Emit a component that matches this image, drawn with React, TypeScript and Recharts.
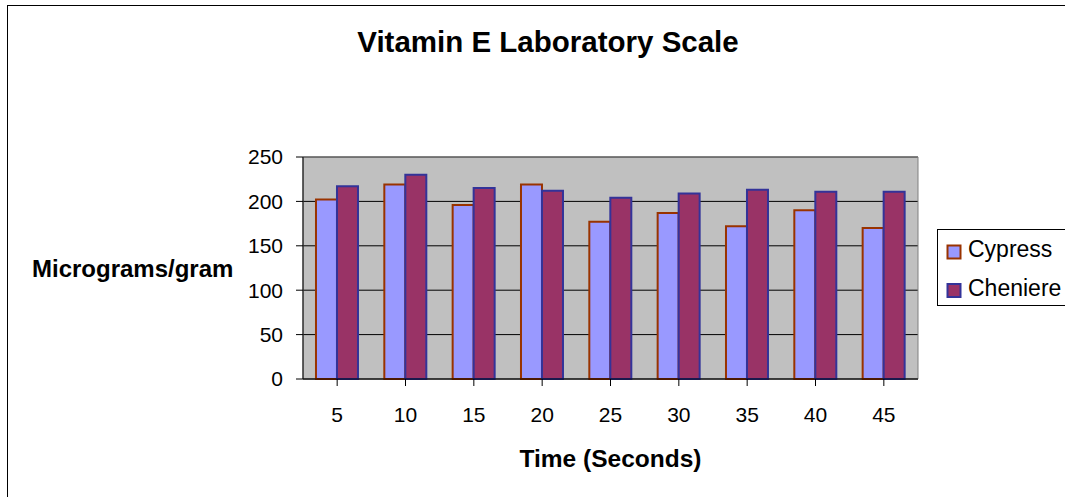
import React from 'react';
import { BarChart, Bar, XAxis, YAxis, CartesianGrid, Legend, Label, ReferenceArea } from 'recharts';

const categories = ['5', '10', '15', '20', '25', '30', '35', '40', '45'];
const cypress = [202, 219, 196, 219, 177, 187, 172, 190, 170];
const cheniere = [217, 230, 215, 212, 204, 209, 213, 211, 211];
const yTicks = [0, 50, 100, 150, 200, 250];

const seriesInfo = [
  { key: 'cypress', name: 'Cypress', fill: '#9999FF', stroke: '#993300' },
  { key: 'cheniere', name: 'Cheniere', fill: '#993366', stroke: '#333399' },
];

const data = categories.map((t, i) => ({ time: t, cypress: cypress[i], cheniere: cheniere[i] }));

const FONT = '"Liberation Sans", Arial, sans-serif';

// Excel-style boxed legend
const LegendBox = () => (
  <svg width={140} height={77} style={{ display: 'block' }}>
    {seriesInfo.map((s, i) => (
      <g key={s.key}>
        <rect x={9.5} y={15.5 + i * 38.5} width={13} height={13} fill={s.fill} stroke={s.stroke} strokeWidth={2} />
        <text x={30} y={27 + i * 39} fontSize={23} fill="#000" fontFamily={FONT}>
          {s.name}
        </text>
      </g>
    ))}
  </svg>
);

export default function App() {
  return (
    <div style={{ position: 'relative', width: 1065, height: 497, overflow: 'hidden', background: '#fff', fontFamily: FONT }}>
      <style>{'body{margin:0}'}</style>
      <BarChart
        width={1065}
        height={497}
        data={data}
        margin={{ top: 157, right: 147, left: 0, bottom: 18 }}
        barCategoryGap="19%"
        barGap={0}
      >
        <CartesianGrid vertical={false} stroke="#000" fill="#C0C0C0" fillOpacity={1} />
        <ReferenceArea y1={0} y2={250} fill="none" stroke="#808080" strokeWidth={1} />
        <XAxis
          dataKey="time"
          height={100}
          tickSize={7}
          tickMargin={21}
          tick={{ fill: '#000', fontSize: 21 }}
          axisLine={{ stroke: '#000' }}
          tickLine={{ stroke: '#000' }}
        >
          <Label value="Time (Seconds)" position="insideBottom" offset={12} fill="#000" fontSize={24.5} fontWeight="bold" />
        </XAxis>
        <YAxis
          width={303}
          domain={[0, 250]}
          ticks={yTicks}
          tickSize={7}
          tickMargin={13}
          tick={{ fill: '#000', fontSize: 21 }}
          axisLine={{ stroke: '#000' }}
          tickLine={{ stroke: '#000' }}
        >
          <Label value="Micrograms/gram" position="insideLeft" offset={32} fill="#000" fontSize={24} fontWeight="bold" />
        </YAxis>
        <Legend
          layout="vertical"
          align="center"
          verticalAlign="middle"
          content={() => <LegendBox />}
          wrapperStyle={{ position: 'absolute', left: 937, top: 229, width: 140, height: 77, border: '1px solid #000', boxSizing: 'border-box', background: '#fff' }}
        />
        {seriesInfo.map((s) => (
          <Bar key={s.key} dataKey={s.key} name={s.name} fill={s.fill} stroke={s.stroke} strokeWidth={2} isAnimationActive={false} />
        ))}
      </BarChart>
      <svg width={1065} height={497} style={{ position: 'absolute', left: 0, top: 0, pointerEvents: 'none' }}>
        <line x1={7.5} y1={5} x2={7.5} y2={497} stroke="#000" strokeWidth={1} />
        <line x1={7} y1={5.5} x2={1065} y2={5.5} stroke="#000" strokeWidth={1} />
        <text x={548} y={52} textAnchor="middle" fontSize={29.5} fontWeight="bold" fill="#000" fontFamily={FONT}>
          Vitamin E Laboratory Scale
        </text>
      </svg>
    </div>
  );
}
